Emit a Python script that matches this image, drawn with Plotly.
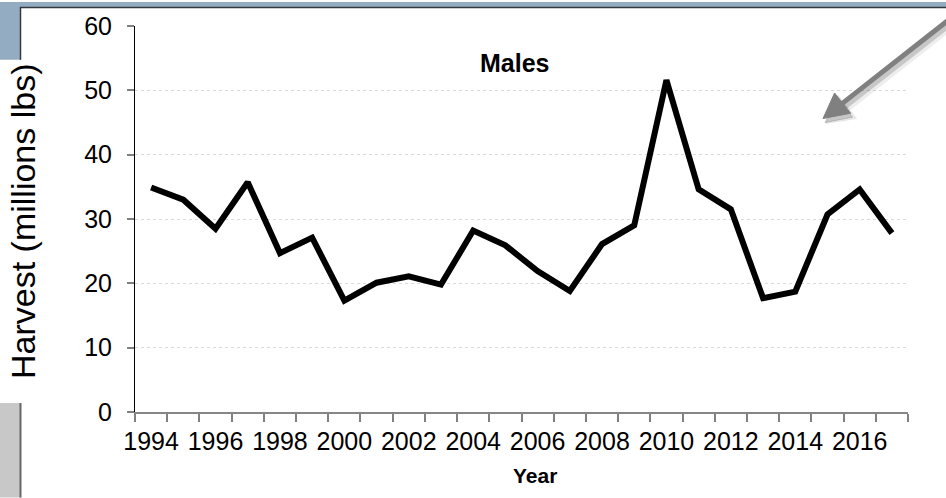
import math
import plotly.graph_objects as go

# Annual male harvest, millions of pounds
years = list(range(1994, 2018))
harvest = [34.9, 33.0, 28.5, 35.7, 24.7, 27.1, 17.3, 20.1, 21.1, 19.8, 28.2, 25.9,
           21.9, 18.8, 26.1, 29.0, 51.6, 34.6, 31.5, 17.7, 18.7, 30.7, 34.6, 27.8]
label_years = list(range(1994, 2017, 2))
y_ticks = [0, 10, 20, 30, 40, 50, 60]

W, H = 946, 498
L, R, T, B = 135, 38, 24, 86
PW, PH = W - L - R, H - T - B


def xp(px):
    return (px - L) / PW


def yp(py):
    return (H - B - py) / PH


FONT = "Arial, Liberation Sans, sans-serif"
SLATE = "#94acc2"

fig = go.Figure()
fig.add_trace(go.Scatter(
    x=years, y=harvest, mode="lines",
    line=dict(color="black", width=6),
    hoverinfo="x+y", showlegend=False,
))

shapes = [
    # slide frame decoration
    dict(type="rect", xref="paper", yref="paper", x0=xp(0), x1=xp(W), y0=yp(5), y1=yp(0),
         fillcolor=SLATE, line_width=0, layer="below"),
    dict(type="rect", xref="paper", yref="paper", x0=xp(0), x1=xp(20), y0=yp(58), y1=yp(0),
         fillcolor=SLATE, line_width=0, layer="below"),
    dict(type="line", xref="paper", yref="paper", x0=xp(20), x1=xp(W), y0=yp(5.5), y1=yp(5.5),
         line=dict(color="#33393f", width=1.5), layer="below"),
    dict(type="line", xref="paper", yref="paper", x0=xp(20.5), x1=xp(20.5), y0=yp(5), y1=yp(58),
         line=dict(color="#33393f", width=1.5), layer="below"),
    dict(type="rect", xref="paper", yref="paper", x0=xp(0), x1=xp(20), y0=yp(H), y1=yp(403),
         fillcolor="#c8c8c8", line_width=0, layer="below"),
    dict(type="line", xref="paper", yref="paper", x0=xp(20.5), x1=xp(20.5), y0=yp(403), y1=yp(H),
         line=dict(color="#666666", width=2), layer="below"),
]


def arrow_shapes(tip, tail_dir, color, dx=0.0, dy=0.0, width=5, head_len=25, head_half=13):
    """Line plus triangular head pointing at tip (pixel coords)."""
    tx, ty = tip[0] + dx, tip[1] + dy
    ux, uy = tail_dir
    n = math.hypot(ux, uy)
    ux, uy = ux / n, uy / n
    nx, ny = -uy, ux
    bx, by = tx + head_len * ux, ty + head_len * uy
    c1 = (bx + head_half * nx, by + head_half * ny)
    c2 = (bx - head_half * nx, by - head_half * ny)
    ex, ey = tx + 200 * ux, ty + 200 * uy
    path = "M{:.5f},{:.5f} L{:.5f},{:.5f} L{:.5f},{:.5f} Z".format(
        xp(tx), yp(ty), xp(c1[0]), yp(c1[1]), xp(c2[0]), yp(c2[1]))
    return [
        dict(type="line", xref="paper", yref="paper",
             x0=xp(bx - 2 * ux), y0=yp(by - 2 * uy), x1=xp(ex), y1=yp(ey),
             line=dict(color=color, width=width)),
        dict(type="path", xref="paper", yref="paper", path=path,
             fillcolor=color, line=dict(color=color, width=1)),
    ]


tip = (823, 117)
direction = (123, -97)
shapes += arrow_shapes(tip, direction, "rgba(0,0,0,0.07)", dx=3, dy=5, width=9, head_len=27, head_half=15)
shapes += arrow_shapes(tip, direction, "rgba(0,0,0,0.16)", dx=2, dy=4)
shapes += arrow_shapes(tip, direction, "#808080")

annotations = [
    dict(text="Harvest (millions lbs)", xref="paper", yref="paper", x=xp(23), y=yp(220),
         textangle=-90, showarrow=False, font=dict(family=FONT, size=34, color="black"),
         xanchor="center", yanchor="middle"),
    dict(text="<b>Year</b>", xref="paper", yref="paper", x=xp(535), y=yp(476),
         showarrow=False, font=dict(family=FONT, size=21, color="black"),
         xanchor="center", yanchor="middle"),
    dict(text="<b>Males</b>", xref="paper", yref="paper", x=xp(514), y=yp(61),
         showarrow=False, font=dict(family=FONT, size=25, color="black"),
         xanchor="center", yanchor="middle"),
]

fig.update_layout(
    width=W, height=H,
    margin=dict(l=L, r=R, t=T, b=B, pad=0),
    paper_bgcolor="white", plot_bgcolor="white",
    font=dict(family=FONT, color="black"),
    shapes=shapes, annotations=annotations,
    xaxis=dict(
        range=[1993.5, 2017.5],
        tickmode="array", tickvals=label_years, ticktext=[str(y) for y in label_years],
        ticks="", tickangle=0, tickfont=dict(size=25),
        showgrid=False, zeroline=False,
        showline=True, linecolor="#868686", linewidth=2,
        minor=dict(tick0=1993.5, dtick=1, ticks="outside", ticklen=8,
                   tickcolor="#808080", tickwidth=1.5, showgrid=False),
        ticklabelstandoff=6,
    ),
    yaxis=dict(
        range=[0, 60], tickmode="array", tickvals=y_ticks,
        ticks="outside", ticklen=7, tickcolor="#808080", tickwidth=1.5,
        tickfont=dict(size=25), ticklabelstandoff=10,
        showgrid=True, gridcolor="#dadada", griddash="dot", gridwidth=1,
        zeroline=False, showline=True, linecolor="black", linewidth=1,
    ),
)

fig.write_html("out.html")
